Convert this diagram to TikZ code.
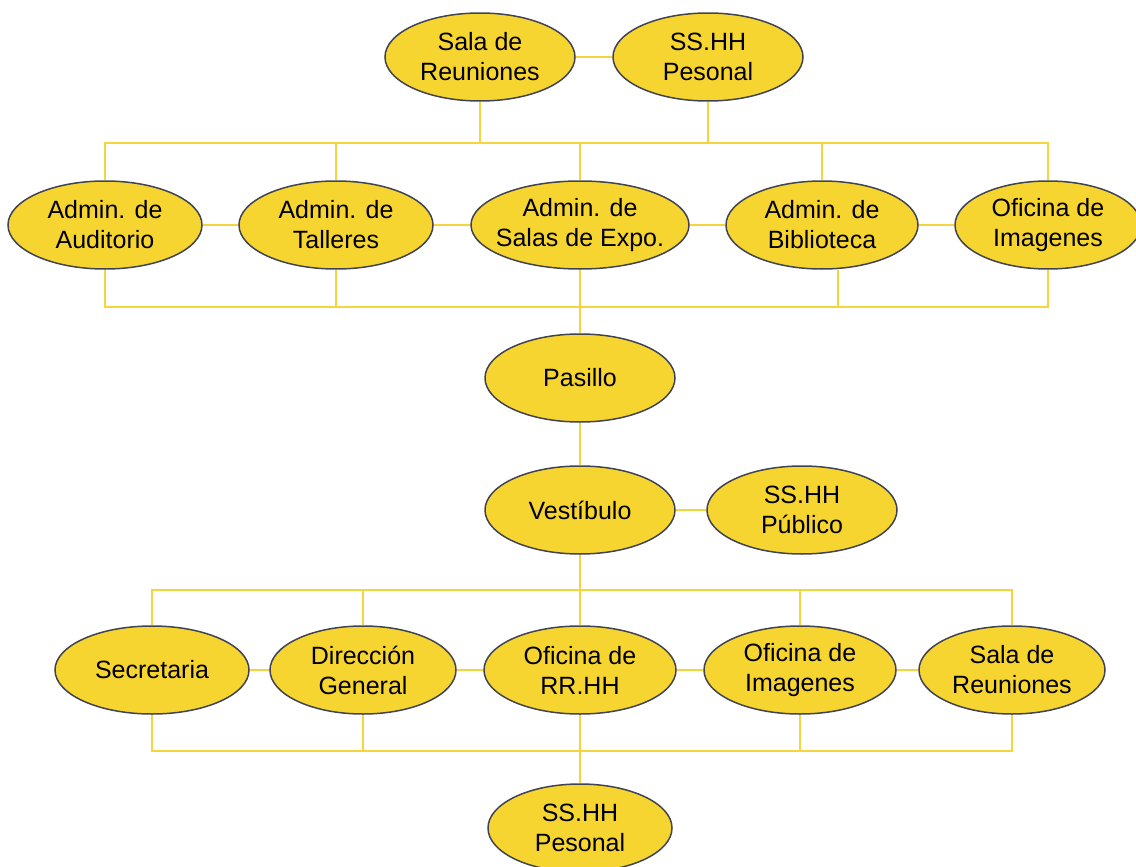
\documentclass[tikz,border=0pt]{standalone}
\usepackage{fontspec}
\setmainfont{Liberation Sans}
\usetikzlibrary{shapes.geometric}
\definecolor{roomfill}{RGB}{247,213,48}
\definecolor{roomline}{RGB}{64,68,82}
\definecolor{linkline}{RGB}{246,212,60}

\begin{document}
\begin{tikzpicture}[x=0.5pt,y=-0.5pt,
  room/.style={ellipse,draw=roomline,line width=0.75pt,fill=roomfill,
    minimum width=95pt,minimum height=44pt,inner xsep=-10pt,inner ysep=0pt,
    align=center,font=\fontsize{12.5}{15}\selectfont},
  link/.style={draw=linkline,line width=1pt}]
  \useasboundingbox (0,0) rectangle (1136,867);
  % top pair
  \node[room] (salaA) at (480,57) {Sala de\\Reuniones};
  \node[room] (sshA) at (708,57) {SS.HH\\Pesonal};
  % administration row
  \node[room,minimum width=97pt] (aud) at (105,225) {Admin. de\\Auditorio};
  \node[room,minimum width=97pt] (tal) at (336,225) {Admin. de\\Talleres};
  \node[room,minimum width=109pt] (expo) at (580,225) {Admin. de\\Salas de Expo.};
  \node[room,minimum width=96pt] (bib) at (822,225) {Admin. de\\Biblioteca};
  \node[room,minimum width=93pt] (imgA) at (1048,225) {Oficina de\\Imagenes};
  % central spine
  \node[room] (pas) at (580,378) {Pasillo};
  \node[room] (ves) at (580,510) {Vestíbulo};
  \node[room] (ssp) at (802,510) {SS.HH\\Público};
  % office row
  \node[room,minimum width=97pt] (sec) at (152,670) {Secretaria};
  \node[room,minimum width=93pt] (dir) at (363,670) {Dirección\\General};
  \node[room,minimum width=96pt] (rrhh) at (580,670) {Oficina de\\RR.HH};
  \node[room,minimum width=96pt] (imgB) at (800,670) {Oficina de\\Imagenes};
  \node[room,minimum width=93pt] (salaB) at (1012,670) {Sala de\\Reuniones};
  \node[room,minimum width=92pt] (sshB) at (580,828) {SS.HH\\Pesonal};
  % bus lines
  \coordinate (busA) at (580,143);
  \coordinate (busB) at (580,307);
  \coordinate (busC) at (580,590);
  \coordinate (busD) at (580,751);
  \path[link] (aud.north) -- (aud.north |- busA) -- (imgA.north |- busA) -- (imgA.north);
  \path[link] (aud.south) -- (aud.south |- busB) -- (imgA.south |- busB) -- (imgA.south);
  \path[link] (sec.north) -- (sec.north |- busC) -- (salaB.north |- busC) -- (salaB.north);
  \path[link] (sec.south) -- (sec.south |- busD) -- (salaB.south |- busD) -- (salaB.south);
  \foreach \n in {tal,expo,bib}
    \path[link] (\n.north) -- (\n.north |- busA);
  \foreach \n in {salaA,sshA}
    \path[link] (\n.south) -- (\n.south |- busA);
  \path[link] (tal.south) -- (tal.south |- busB);
  \path[link] ([xshift=8pt]bib.south) -- ([xshift=8pt]bib.south |- busB);
  \foreach \n in {dir,imgB}
    \path[link] (\n.north) -- (\n.north |- busC) (\n.south) -- (\n.south |- busD);
  % side links
  \path[link] (salaA) -- (sshA);
  \path[link] (aud) -- (tal) (tal) -- (expo) (expo) -- (bib) (bib) -- (imgA);
  \path[link] (ves) -- (ssp);
  \path[link] (sec) -- (dir) (dir) -- (rrhh) (rrhh) -- (imgB) (imgB) -- (salaB);
  % spine
  \path[link] (expo) -- (pas) (pas) -- (ves) (ves) -- (rrhh) (rrhh) -- (sshB);
\end{tikzpicture}
\end{document}
